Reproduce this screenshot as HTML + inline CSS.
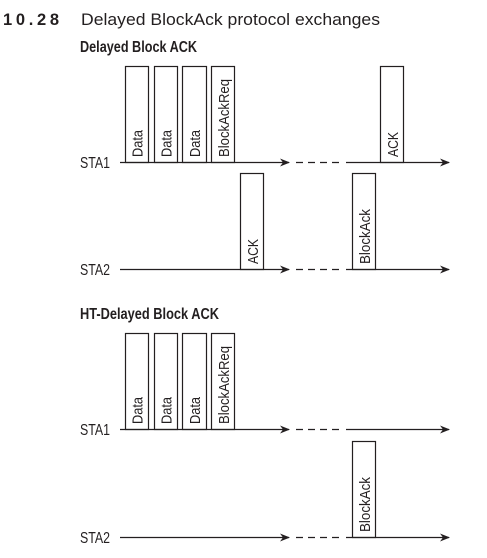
<!DOCTYPE html>
<html><head><meta charset="utf-8"><style>body{margin:0;background:#fff}svg{display:block}</style></head>
<body>
<svg width="487" height="558" xmlns="http://www.w3.org/2000/svg" font-family="Liberation Sans, sans-serif">
<defs>
<marker id="a" markerWidth="10" markerHeight="8" refX="9" refY="4" orient="auto" markerUnits="userSpaceOnUse">
<path d="M0,0 L10,4 L0,8 L3,4 Z" fill="#231f20"/></marker>
</defs>
<text x="3" y="25" font-size="16.5" font-weight="bold" fill="#231f20" textLength="56" lengthAdjust="spacing">10.28</text>
<text x="81" y="25" font-size="16.5" fill="#231f20" textLength="299" lengthAdjust="spacingAndGlyphs">Delayed BlockAck protocol exchanges</text>
<text x="80" y="52" font-size="16" font-weight="bold" fill="#231f20" textLength="117" lengthAdjust="spacingAndGlyphs">Delayed Block ACK</text>
<text x="80" y="319" font-size="16" font-weight="bold" fill="#231f20" textLength="139" lengthAdjust="spacingAndGlyphs">HT-Delayed Block ACK</text>

<g stroke="#231f20" stroke-width="1.2" fill="#fff">
<rect x="125.5" y="66.5" width="23" height="96"/>
<rect x="154.5" y="66.5" width="23" height="96"/>
<rect x="182.5" y="66.5" width="24" height="96"/>
<rect x="211.5" y="66.5" width="23" height="96"/>
<rect x="380.5" y="66.5" width="23" height="96"/>
<rect x="240.5" y="173.5" width="23" height="96"/>
<rect x="352.5" y="173.5" width="23" height="96"/>
<rect x="125.5" y="333.5" width="23" height="96"/>
<rect x="154.5" y="333.5" width="23" height="96"/>
<rect x="182.5" y="333.5" width="24" height="96"/>
<rect x="211.5" y="333.5" width="23" height="96"/>
<rect x="352.5" y="441.5" width="23" height="96"/>
</g>
<g stroke="#231f20" stroke-width="1.2" fill="none">
<line x1="120" y1="162.5" x2="289" y2="162.5" marker-end="url(#a)"/>
<line x1="296" y1="162.5" x2="340" y2="162.5" stroke-dasharray="7,5"/>
<line x1="346" y1="162.5" x2="449" y2="162.5" marker-end="url(#a)"/>
<line x1="120" y1="269.5" x2="289" y2="269.5" marker-end="url(#a)"/>
<line x1="296" y1="269.5" x2="340" y2="269.5" stroke-dasharray="7,5"/>
<line x1="346" y1="269.5" x2="449" y2="269.5" marker-end="url(#a)"/>
<line x1="120" y1="429.5" x2="289" y2="429.5" marker-end="url(#a)"/>
<line x1="296" y1="429.5" x2="340" y2="429.5" stroke-dasharray="7,5"/>
<line x1="346" y1="429.5" x2="449" y2="429.5" marker-end="url(#a)"/>
<line x1="120" y1="537.5" x2="289" y2="537.5" marker-end="url(#a)"/>
<line x1="296" y1="537.5" x2="340" y2="537.5" stroke-dasharray="7,5"/>
<line x1="346" y1="537.5" x2="449" y2="537.5" marker-end="url(#a)"/>
</g>
<g font-size="16" fill="#231f20">
<text x="80" y="168" textLength="30" lengthAdjust="spacingAndGlyphs">STA1</text>
<text x="80" y="275" textLength="30" lengthAdjust="spacingAndGlyphs">STA2</text>
<text x="80" y="435" textLength="30" lengthAdjust="spacingAndGlyphs">STA1</text>
<text x="80" y="543" textLength="30" lengthAdjust="spacingAndGlyphs">STA2</text>
</g>
<g font-size="15" fill="#231f20">
<text transform="translate(142.5,157) rotate(-90)" textLength="27" lengthAdjust="spacingAndGlyphs">Data</text>
<text transform="translate(171.5,157) rotate(-90)" textLength="27" lengthAdjust="spacingAndGlyphs">Data</text>
<text transform="translate(200,157) rotate(-90)" textLength="27" lengthAdjust="spacingAndGlyphs">Data</text>
<text transform="translate(229,157) rotate(-90)" textLength="78" lengthAdjust="spacingAndGlyphs">BlockAckReq</text>
<text transform="translate(398,157) rotate(-90)" textLength="25" lengthAdjust="spacingAndGlyphs">ACK</text>
<text transform="translate(258,264) rotate(-90)" textLength="25" lengthAdjust="spacingAndGlyphs">ACK</text>
<text transform="translate(370,264) rotate(-90)" textLength="55" lengthAdjust="spacingAndGlyphs">BlockAck</text>
<text transform="translate(142.5,424) rotate(-90)" textLength="27" lengthAdjust="spacingAndGlyphs">Data</text>
<text transform="translate(171.5,424) rotate(-90)" textLength="27" lengthAdjust="spacingAndGlyphs">Data</text>
<text transform="translate(200,424) rotate(-90)" textLength="27" lengthAdjust="spacingAndGlyphs">Data</text>
<text transform="translate(229,424) rotate(-90)" textLength="78" lengthAdjust="spacingAndGlyphs">BlockAckReq</text>
<text transform="translate(370,532) rotate(-90)" textLength="55" lengthAdjust="spacingAndGlyphs">BlockAck</text>
</g>
</svg>
</body></html>
